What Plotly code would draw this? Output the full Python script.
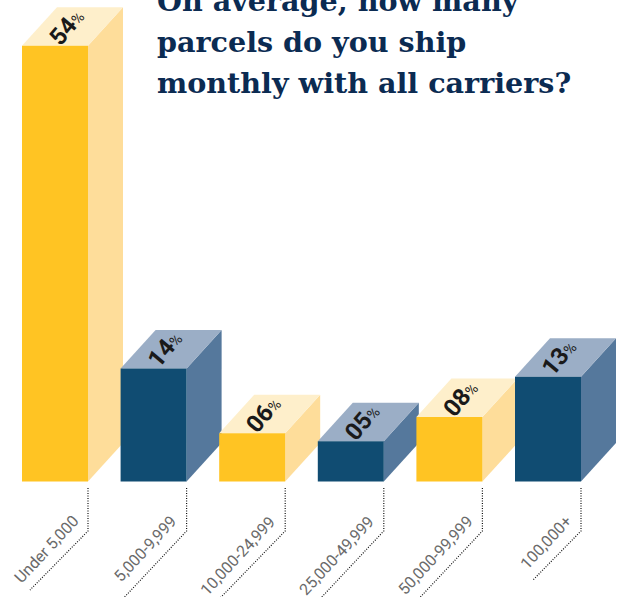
import plotly.graph_objects as go

categories = ["Under 5,000", "5,000-9,999", "10,000-24,999", "25,000-49,999", "50,000-99,999", "100,000+"]
values = [54, 14, 6, 5, 8, 13]
value_labels = ["54", "14", "06", "05", "08", "13"]
title_lines = ["On average, how many", "parcels do you ship", "monthly with all carriers?"]

W, H = 624, 597
PX_PER_PCT = 8.07
BASE_PX = 481.6
SLOT = 98.6
FIRST_PX = 55
BAR_W = 66 / SLOT
DX = 35 / SLOT
DY = 38.5 / PX_PER_PCT

FRONT = ["#FFC423", "#104C72"]
TOP = ["#FEEFCB", "#9BAEC6"]
SIDE = ["#FEDD9A", "#55789C"]

x_range = [-FIRST_PX / SLOT, (W - FIRST_PX) / SLOT]
y_range = [-(H - BASE_PX) / PX_PER_PCT, BASE_PX / PX_PER_PCT]


def y_of(px):
    return (BASE_PX - px) / PX_PER_PCT


fig = go.Figure()
annotations = []

for i, (cat, v) in enumerate(zip(categories, values)):
    c = i % 2
    l, r = i - BAR_W / 2, i + BAR_W / 2
    fig.add_trace(go.Scatter(x=[r, r + DX, r + DX, r, r], y=[0, DY, v + DY, v, 0], mode="lines",
                             fill="toself", fillcolor=SIDE[c], line=dict(width=0), hoverinfo="skip"))
    fig.add_trace(go.Scatter(x=[l, r, r + DX, l + DX, l], y=[v, v, v + DY, v + DY, v], mode="lines",
                             fill="toself", fillcolor=TOP[c], line=dict(width=0), hoverinfo="skip"))
    # dotted leader
    end_dx = 58 if i != 5 else 48
    end_dy = 59 if i != 5 else 49
    if i == 2:
        end_dx, end_dy = 66, 68
    if i in (1, 3, 4):
        end_dx, end_dy = 62, 66
    fig.add_trace(go.Scatter(
        x=[r, r, r - end_dx / SLOT],
        y=[y_of(488), y_of(531), y_of(531 + end_dy)],
        mode="lines", line=dict(color="#111111", width=1.2, dash="1px 1.5px"), hoverinfo="skip"))
    annotations.append(dict(
        x=r - 3 / SLOT, y=y_of(509), xref="x", yref="y", xanchor="right", yanchor="top",
        text=cat, showarrow=False, textangle=-47,
        font=dict(family="Roboto", size=16, color="#6A6A6A")))
    annotations.append(dict(
        x=i + DX / 2 - 6 / SLOT, y=v + DY / 2, xref="x", yref="y", xanchor="center", yanchor="middle",
        text=f"<b>{value_labels[i]}</b><span style='font-size:15px'>%</span>", showarrow=False, textangle=-50,
        font=dict(family="Roboto", size=24, color="#1A1A1A")))

fig.add_trace(go.Bar(x=list(range(len(values))), y=values, width=BAR_W, xaxis="x2", yaxis="y2",
                     marker=dict(color=[FRONT[i % 2] for i in range(len(values))], line=dict(width=0)),
                     hoverinfo="skip"))

for line, base in zip(title_lines, [12, 53, 94]):
    annotations.append(dict(
        x=155 / W, y=1 - (base + 8) / H, xref="paper", yref="paper", xanchor="left", yanchor="bottom",
        text=f"<b>{line}</b>", showarrow=False,
        font=dict(family="DejaVu Serif", size=28.6, color="#0B2B52")))

hidden = dict(visible=False, showgrid=False, zeroline=False, fixedrange=True)
fig.update_layout(
    width=W, height=H, margin=dict(l=0, r=0, t=0, b=0), showlegend=False,
    paper_bgcolor="white", plot_bgcolor="white", annotations=annotations,
    xaxis=dict(range=x_range, **hidden), yaxis=dict(range=y_range, **hidden),
    xaxis2=dict(range=x_range, overlaying="x", **hidden),
    yaxis2=dict(range=y_range, overlaying="y", **hidden),
)
fig.write_html("out.html", config=dict(displayModeBar=False),
               post_script="document.body.style.margin='0';document.body.style.overflow='hidden';")
